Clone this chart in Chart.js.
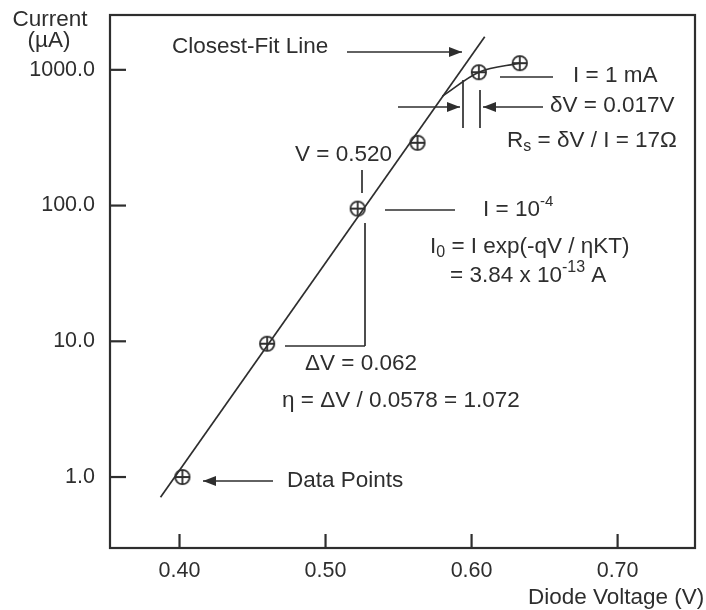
<!DOCTYPE html>
<html>
<head>
<meta charset="utf-8">
<script src="https://cdn.jsdelivr.net/npm/chart.js@4.4.1/dist/chart.umd.min.js"></script>
<style>
    html, body { margin: 0; padding: 0; background: #fff; }
    canvas { display: block; }
</style>
</head>
<body>
<canvas id="myChart" width="706" height="610"></canvas>
<script>
'use strict';

// measured diode points (V, uA)
const voltages = [0.402, 0.460, 0.522, 0.563, 0.605, 0.633];
const currents = [1.0, 9.6, 95, 290, 960, 1120];
// closest-fit line ends
const fitVoltages = [0.387, 0.609];
const fitCurrents = [0.71, 1750];
// bend at high current (series resistance)
const kneeVoltages = [0.580, 0.605, 0.633];
const kneeCurrents = [640, 960, 1120];
// axis ticks
const xTicks = [0.40, 0.50, 0.60, 0.70];
const yTicks = [1, 10, 100, 1000];

const FAM = '"Liberation Sans", Arial, sans-serif';
const INK = '#2e2e2e';
const FS = 22.5;

function pairs(xs, ys) {
    return xs.map((x, i) => ({ x: x, y: ys[i] }));
}

// circle with a cross in it
const dot = document.createElement('canvas');
dot.width = 20;
dot.height = 20;
(function () {
    const c = dot.getContext('2d');
    c.strokeStyle = INK;
    c.fillStyle = '#fff';
    c.lineWidth = 1.8;
    c.beginPath();
    c.arc(10, 10, 7.2, 0, Math.PI * 2);
    c.fill();
    c.stroke();
    c.beginPath();
    c.moveTo(3, 10); c.lineTo(17, 10);
    c.moveTo(10, 3); c.lineTo(10, 17);
    c.stroke();
})();

function rich(ctx, x, y, parts) {
    let cx = x;
    for (const p of parts) {
        ctx.font = (p.s || FS) + 'px ' + FAM;
        ctx.fillText(p.t, cx, y + (p.dy || 0));
        cx += ctx.measureText(p.t).width;
    }
}

function line(ctx, x1, y1, x2, y2) {
    ctx.beginPath();
    ctx.moveTo(x1, y1);
    ctx.lineTo(x2, y2);
    ctx.stroke();
}

function arrow(ctx, x1, y, x2) {
    line(ctx, x1, y, x2, y);
    const d = x2 > x1 ? 1 : -1;
    ctx.beginPath();
    ctx.moveTo(x2, y);
    ctx.lineTo(x2 - d * 13, y - 5);
    ctx.lineTo(x2 - d * 13, y + 5);
    ctx.closePath();
    ctx.fill();
}

const decor = {
    id: 'decor',
    afterDraw(chart) {
        const ctx = chart.ctx;
        const a = chart.chartArea;
        const sx = chart.scales.x;
        const sy = chart.scales.y;
        ctx.save();
        ctx.strokeStyle = INK;
        ctx.fillStyle = INK;

        // frame + inward ticks
        ctx.lineWidth = 2.2;
        ctx.strokeRect(a.left, a.top, a.right - a.left, a.bottom - a.top);
        sx.ticks.forEach(t => {
            const px = sx.getPixelForValue(t.value);
            line(ctx, px, a.bottom, px, a.bottom - 14);
        });
        sy.ticks.forEach(t => {
            const py = sy.getPixelForValue(t.value);
            line(ctx, a.left, py, a.left + 16, py);
        });

        // annotation strokes
        ctx.lineWidth = 1.7;
        arrow(ctx, 347, 52, 462);          // closest-fit
        line(ctx, 500, 77, 553, 77);       // I = 1 mA
        line(ctx, 463, 80, 463, 128);      // dV bars
        line(ctx, 480, 90, 480, 128);
        arrow(ctx, 398, 107, 460);
        arrow(ctx, 543, 107, 483);
        line(ctx, 362, 170, 362, 193);     // V = 0.520
        line(ctx, 385, 210, 455, 210);     // I = 1e-4
        line(ctx, 365, 223, 365, 346);     // delta V bracket
        line(ctx, 285, 346, 365, 346);
        arrow(ctx, 273, 481, 203);         // data points

        // texts
        ctx.textBaseline = 'middle';
        ctx.textAlign = 'center';
        ctx.font = FS + 'px ' + FAM;
        ctx.fillText('Current', 50, 20);
        ctx.fillText('(\u00b5A)', 49, 41);
        ctx.textAlign = 'left';
        rich(ctx, 172, 47, [{ t: 'Closest-Fit Line' }]);
        rich(ctx, 573, 76, [{ t: 'I = 1 mA' }]);
        rich(ctx, 550, 106, [{ t: '\u03b4V = 0.017V' }]);
        rich(ctx, 507, 141, [{ t: 'R' }, { t: 's', s: 16, dy: 6 }, { t: ' = \u03b4V / I = 17\u03a9' }]);
        rich(ctx, 295, 155, [{ t: 'V = 0.520' }]);
        rich(ctx, 483, 210, [{ t: 'I = 10' }, { t: '-4', s: 15, dy: -8 }]);
        rich(ctx, 430, 247, [{ t: 'I' }, { t: '0', s: 16, dy: 6 }, { t: ' = I exp(-qV / \u03b7KT)' }]);
        rich(ctx, 450, 276, [{ t: '= 3.84 x 10' }, { t: '-13', s: 16, dy: -8 }, { t: ' A' }]);
        rich(ctx, 305, 364, [{ t: '\u0394V = 0.062' }]);
        rich(ctx, 282, 401, [{ t: '\u03b7 = \u0394V / 0.0578 = 1.072' }]);
        rich(ctx, 287, 481, [{ t: 'Data Points' }]);
        rich(ctx, 528, 598, [{ t: 'Diode Voltage (V)' }]);
        ctx.restore();
    }
};

const config = {
    type: 'scatter',
    data: {
        datasets: [{
            label: 'Closest-Fit Line',
            data: pairs(fitVoltages, fitCurrents),
            showLine: true,
            pointRadius: 0,
            borderColor: INK,
            borderWidth: 1.7
        }, {
            label: 'Knee',
            data: pairs(kneeVoltages, kneeCurrents),
            showLine: true,
            cubicInterpolationMode: 'monotone',
            pointRadius: 0,
            borderColor: INK,
            borderWidth: 1.7
        }, {
            label: 'Data Points',
            data: pairs(voltages, currents),
            pointStyle: dot,
            pointRadius: 10
        }]
    },
    options: {
        responsive: false,
        animation: false,
        layout: {
            padding: { top: 15, right: 8, left: 0, bottom: 0 }
        },
        plugins: {
            legend: { display: false },
            tooltip: { enabled: false }
        },
        scales: {
            x: {
                type: 'linear',
                min: 0.3524,
                max: 0.753,
                afterBuildTicks: s => { s.ticks = xTicks.map(v => ({ value: v })); },
                afterFit: s => { s.height = 62; s.paddingLeft = 0; s.paddingRight = 0; },
                grid: { display: false, drawTicks: false },
                border: { display: false },
                ticks: {
                    color: INK,
                    padding: 10,
                    maxRotation: 0,
                    autoSkip: false,
                    font: { family: FAM, size: 21.5 },
                    callback: v => v.toFixed(2)
                }
            },
            y: {
                type: 'logarithmic',
                min: 0.307,
                max: 2535,
                afterBuildTicks: s => { s.ticks = yTicks.map(v => ({ value: v })); },
                afterFit: s => { s.width = 110; s.paddingTop = 0; s.paddingBottom = 0; },
                grid: { display: false, drawTicks: false },
                border: { display: false },
                ticks: {
                    color: INK,
                    padding: 15,
                    autoSkip: false,
                    font: { family: FAM, size: 21.5 },
                    callback: v => Number(v).toFixed(1)
                }
            }
        }
    },
    plugins: [decor]
};

let myChart = new Chart(document.getElementById('myChart'), config);
</script>
</body>
</html>
